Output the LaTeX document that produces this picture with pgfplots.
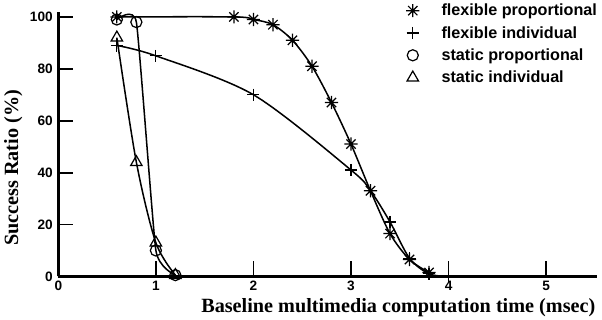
\documentclass[border=0pt]{standalone}
\usepackage{fontspec}
\setmainfont{Liberation Serif}
\setsansfont{Liberation Sans}
\usepackage{pgfplots}
\pgfplotsset{compat=1.18}

\pgfdeclareplotmark{ast8}{%
 \pgfpathmoveto{\pgfqpoint{0pt}{\pgfplotmarksize}}\pgfpathlineto{\pgfqpoint{0pt}{-\pgfplotmarksize}}%
 \pgfpathmoveto{\pgfqpoint{\pgfplotmarksize}{0pt}}\pgfpathlineto{\pgfqpoint{-\pgfplotmarksize}{0pt}}%
 \pgfpathmoveto{\pgfqpoint{.707\pgfplotmarksize}{.707\pgfplotmarksize}}\pgfpathlineto{\pgfqpoint{-.707\pgfplotmarksize}{-.707\pgfplotmarksize}}%
 \pgfpathmoveto{\pgfqpoint{-.707\pgfplotmarksize}{.707\pgfplotmarksize}}\pgfpathlineto{\pgfqpoint{.707\pgfplotmarksize}{-.707\pgfplotmarksize}}%
 \pgfusepathqstroke}

\begin{document}
\begin{tikzpicture}
\begin{axis}[
 scale only axis, width=533pt, height=262pt,
 xmin=0, xmax=5.52, ymin=0, ymax=102,
 axis lines*=left,
 axis line style={line width=2.4pt, black, -},
 xtick={0,1,2,3,4,5}, ytick={0,20,40,60,80,100},
 tick align=inside, major tick length=15pt,
 xtick style={line width=1.8pt, draw=black},
 ytick style={line width=1.8pt, draw=black},
 ticklabel style={font=\sffamily\bfseries\fontsize{13.5}{14}\selectfont},
 /pgf/number format/assume math mode=true,
 xticklabel style={yshift=-1pt},
 yticklabel style={xshift=-2pt},
 xlabel={Baseline multimedia computation time (msec)},
 ylabel={Success Ratio (\%)},
 label style={font=\rmfamily\bfseries\fontsize{20}{22}\selectfont},
 xlabel style={at={(rel axis cs:1,0)}, anchor=north east, yshift=-18pt, xshift=2pt},
 ylabel style={at={(ticklabel cs:0.41)}, anchor=near ticklabel, inner sep=4pt},
 clip=false,
 legend style={at={(rel axis cs:1.01,1.045)}, anchor=north east, draw=none, fill=none,
   font=\sffamily\bfseries\fontsize{16}{16}\selectfont, row sep=5pt, column sep=20pt},
 legend cell align=left,
 legend image code/.code={\draw[#1, only marks] plot coordinates {(0pt,0pt)};},
 every axis plot/.append style={black, line width=1.5pt, smooth, mark options={solid, line width=1.2pt}},
]
\addplot[mark=ast8, mark size=6.5pt] coordinates {
 (0.6,100) (1.8,100) (2.0,99) (2.2,97) (2.4,91) (2.6,81) (2.8,67) (3.0,51) (3.2,33) (3.4,16.5) (3.6,6.5) (3.8,1.5)};
\addlegendentry{flexible proportional}
\addplot[mark=+, mark size=6pt] coordinates {
 (0.6,89) (1.0,85) (2.0,70) (3.0,41) (3.2,33) (3.4,21) (3.6,7) (3.8,1) (4.0,0)};
\addlegendentry{flexible individual}
\addplot[mark=o, mark size=5.5pt, tension=0.25] coordinates {
 (0.6,99) (0.8,98) (1.0,10) (1.2,0.5)};
\addlegendentry{static proportional}
\addplot[mark=triangle, mark size=6.5pt] coordinates {
 (0.6,92) (0.8,44) (1.0,13) (1.2,0.5)};
\addlegendentry{static individual}
\end{axis}
\end{tikzpicture}
\end{document}
